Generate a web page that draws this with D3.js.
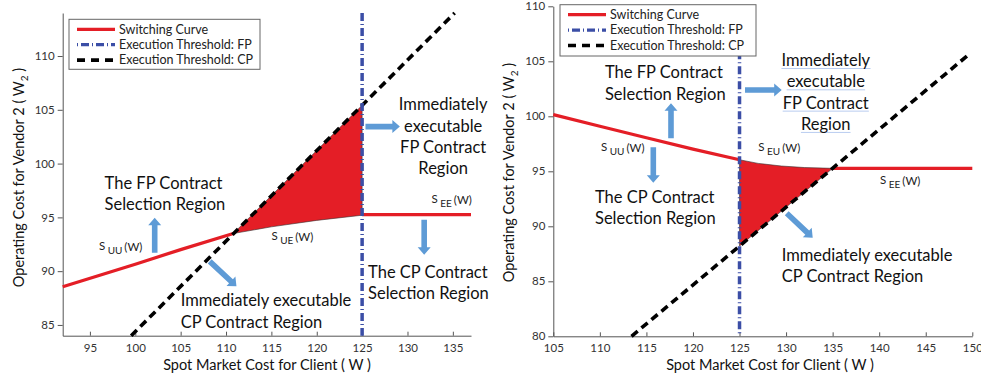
<!DOCTYPE html>
<html><head><meta charset="utf-8">
<script src="https://cdn.jsdelivr.net/npm/d3@7"></script>
<style>
html,body{margin:0;padding:0;background:#fff;}
svg{display:block;font-family:Lato,"Open Sans",sans-serif;}
</style></head><body>
<svg id="chart" width="981" height="379"></svg>
<script>
// ---------- Left panel data ----------
const leftXDomain = [92, 137];
const leftYDomain = [84, 114];
const leftXTicks = [95, 100, 105, 110, 115, 120, 125, 130, 135];
const leftYTicks = [85, 90, 95, 100, 105, 110];
const leftSUU = [[92, 88.55], [96, 89.6], [100, 90.65], [105, 92.0], [110.8, 93.5]];
const leftSUE = [[110.8, 93.5], [115, 94.12], [120, 94.72], [125, 95.2]];
const leftSEE = [[125, 95.25], [137, 95.25]];
const leftCP = [[99.55, 84], [135.2, 114]];
const leftFP = 125;

// ---------- Right panel data ----------
const rightXDomain = [105, 150];
const rightYDomain = [80, 110];
const rightXTicks = [105, 110, 115, 120, 125, 130, 135, 140, 145, 150];
const rightYTicks = [80, 85, 90, 95, 100, 105, 110];
const rightSUU = [[105, 100.15], [110, 99.1], [115, 98.05], [120, 97.02], [125, 96.05]];
const rightSEU = [[125, 96.05], [127, 95.72], [129.5, 95.48], [132, 95.34], [135, 95.27]];
const rightSEE = [[135, 95.27], [150, 95.27]];
const rightCP = [[113.4, 80], [149.6, 105.6]];
const rightFP = 125;

const legendLabels = ["Switching Curve", "Execution Threshold: FP", "Execution Threshold: CP"];
const xAxisTitle = "Spot Market Cost for Client ( W )";

const RED = "#e41e26", BLUE = "#3b4ea6", ARROW = "#5e9bd6", AXIS = "#555";

const svg = d3.select("#chart");

// value of a straight threshold line at a given x
function lineAt(seg, x) {
  const [[x0, y0], [x1, y1]] = seg;
  return y0 + (y1 - y0) * (x - x0) / (x1 - x0);
}

function arrow(g, p1, p2) {
  const dx = p2[0] - p1[0], dy = p2[1] - p1[1], L = Math.hypot(dx, dy);
  const ux = dx / L, uy = dy / L, nx = -uy, ny = ux;
  const sw = 2.8, hw = 6.5, hl = 7.5;
  const b = [p2[0] - ux * hl, p2[1] - uy * hl];
  const pts = [
    [p1[0] + nx * sw, p1[1] + ny * sw], [b[0] + nx * sw, b[1] + ny * sw],
    [b[0] + nx * hw, b[1] + ny * hw], p2,
    [b[0] - nx * hw, b[1] - ny * hw], [b[0] - nx * sw, b[1] - ny * sw],
    [p1[0] - nx * sw, p1[1] - ny * sw]];
  g.append("polygon").attr("points", pts.map(p => p.join(",")).join(" ")).attr("fill", ARROW);
}

function sLabel(g, x, y, sub) {
  const t = g.append("text").attr("x", x).attr("y", y).attr("font-size", 11.5).attr("fill", "#222");
  t.append("tspan").text("S");
  t.append("tspan").attr("dy", 4).attr("dx", 2.5).attr("font-size", 10).text(sub);
  t.append("tspan").attr("dy", -3).attr("dx", 2).text("(W)");
}

function block(g, x, y, lines, anchor, underline) {
  lines.forEach((s, i) => {
    const t = g.append("text").attr("x", x).attr("y", y + i * 21.3)
      .attr("font-size", 16.5).attr("fill", "#111").attr("text-anchor", anchor).text(s);
    if (underline) {
      const bb = t.node().getBBox();
      g.insert("line", "text").attr("x1", bb.x).attr("x2", bb.x + bb.width)
        .attr("y1", y + i * 21.3 + 2.5).attr("y2", y + i * 21.3 + 2.5)
        .attr("stroke", "#b9cdf0").attr("stroke-width", 1);
    }
  });
}

function panel(cfg) {
  const x = d3.scaleLinear().domain(cfg.xDomain).range(cfg.xRange);
  const y = d3.scaleLinear().domain(cfg.yDomain).range(cfg.yRange);
  const g = svg.append("g");
  const line = d3.line().x(d => x(d[0])).y(d => y(d[1]));

  // axes
  const xa = g.append("g").attr("transform", `translate(0,${cfg.yRange[0]})`)
    .call(d3.axisBottom(x).tickValues(cfg.xTicks).tickSizeInner(-4).tickSizeOuter(0).tickPadding(8));
  const ya = g.append("g").attr("transform", `translate(${cfg.xRange[0]},0)`)
    .call(d3.axisLeft(y).tickValues(cfg.yTicks).tickSizeInner(5).tickSizeOuter(0).tickPadding(3));
  [xa, ya].forEach(a => {
    a.select(".domain").attr("stroke", AXIS);
    a.selectAll(".tick line").attr("stroke", AXIS);
    a.selectAll(".tick text").attr("font-size", 11.5).attr("fill", "#333").attr("font-family", "Lato");
  });

  // region between the switching curve segment and the CP threshold
  const fpY = lineAt(cfg.cp, cfg.fp);
  const poly = cfg.mid.concat([[cfg.fp, fpY]]);
  g.append("path").attr("d", line(poly) + "Z").attr("fill", RED)
    .attr("stroke", "#333").attr("stroke-width", 0.6);

  // switching curve
  g.append("path").attr("d", line(cfg.left)).attr("fill", "none").attr("stroke", RED).attr("stroke-width", 3.2);
  g.append("path").attr("d", line(cfg.right)).attr("fill", "none").attr("stroke", RED).attr("stroke-width", 3.2);

  // CP threshold
  g.append("path").attr("d", line(cfg.cp)).attr("fill", "none").attr("stroke", "#000")
    .attr("stroke-width", 3.6).attr("stroke-dasharray", "8,5");

  // FP threshold
  g.append("line").attr("x1", x(cfg.fp)).attr("x2", x(cfg.fp))
    .attr("y1", y(cfg.yDomain[1])).attr("y2", y(cfg.yDomain[0]))
    .attr("stroke", BLUE).attr("stroke-width", 3.5).attr("stroke-dasharray", "8,3,1,3");

  // legend
  const L = cfg.legend;
  const lg = g.append("g").attr("transform", `translate(${L[0]},${L[1]})`);
  lg.append("rect").attr("width", L[2]).attr("height", L[3]).attr("fill", "#fff")
    .attr("stroke", "#666").attr("stroke-width", 1);
  const styles = [
    { c: RED, w: 3.2, d: null },
    { c: BLUE, w: 3.2, d: "1,3,8,3" },
    { c: "#000", w: 3.6, d: "8,6" }];
  legendLabels.forEach((s, i) => {
    const ry = 10 + i * 15.4;
    lg.append("line").attr("x1", 8).attr("x2", 46).attr("y1", ry).attr("y2", ry)
      .attr("stroke", styles[i].c).attr("stroke-width", styles[i].w)
      .attr("stroke-dasharray", styles[i].d);
    lg.append("text").attr("x", 50).attr("y", ry + 4.3).attr("font-size", 12.5)
      .attr("fill", "#222").text(s);
  });

  // axis titles
  g.append("text").attr("x", cfg.xTitle[0]).attr("y", cfg.xTitle[1]).attr("text-anchor", "middle")
    .attr("font-size", 14.5).attr("fill", "#111").text(xAxisTitle);
  const yt = g.append("text").attr("transform", `translate(${cfg.yTitle[0]},${cfg.yTitle[1]}) rotate(-90)`)
    .attr("text-anchor", "middle").attr("font-size", 14.5).attr("fill", "#111");
  yt.append("tspan").text("Operating Cost for Vendor 2 ( W");
  yt.append("tspan").attr("dy", 4).attr("font-size", 10).text("2");
  yt.append("tspan").attr("dy", -4).text(" )");

  // annotations
  const ann = g.append("g");
  cfg.blocks.forEach(b => block(ann, x(b.at[0]), y(b.at[1]), b.lines, b.anchor, b.underline));
  cfg.sLabels.forEach(s => sLabel(ann, x(s.at[0]), y(s.at[1]), s.sub));
  cfg.arrows.forEach(a => arrow(ann, [x(a[0][0]), y(a[0][1])], [x(a[1][0]), y(a[1][1])]));
}

panel({
  xDomain: leftXDomain, yDomain: leftYDomain, xTicks: leftXTicks, yTicks: leftYTicks,
  xRange: [62.7, 471], yRange: [335.7, 13],
  left: leftSUU, mid: leftSUE, right: leftSEE, cp: leftCP, fp: leftFP,
  legend: [69, 19.3, 191, 50],
  xTitle: [267, 370], yTitle: [23.5, 177.5],
  blocks: [
    { at: [96.62, 97.67], lines: ["The FP Contract", "Selection Region"], anchor: "start" },
    { at: [105.0, 86.73], lines: ["Immediately executable", "CP Contract Region"], anchor: "start" },
    { at: [133.93, 104.94], lines: ["Immediately", "executable", "FP Contract", "Region"], anchor: "middle" },
    { at: [125.66, 89.37], lines: ["The CP Contract", "Selection Region"], anchor: "start" }],
  sLabels: [
    { at: [95.99, 91.93], sub: "UU" },
    { at: [115.0, 92.93], sub: "UE" },
    { at: [132.65, 96.34], sub: "EE" }],
  arrows: [
    [[102.14, 91.72], [102.14, 94.97]],
    [[108.2, 90.91], [111.15, 88.59]],
    [[125.37, 103.44], [129.16, 103.44]],
    [[131.84, 94.79], [131.84, 91.53]]]
});

panel({
  xDomain: rightXDomain, yDomain: rightYDomain, xTicks: rightXTicks, yTicks: rightYTicks,
  xRange: [553.3, 972.3], yRange: [336.3, 6.3],
  left: rightSUU, mid: rightSEU, right: rightSEE, cp: rightCP, fp: rightFP,
  legend: [560, 4.7, 196, 51.3],
  xTitle: [770, 370], yTitle: [513.5, 172.5],
  blocks: [
    { at: [110.55, 103.45], lines: ["The FP Contract", "Selection Region"], anchor: "start" },
    { at: [109.48, 92.15], lines: ["The CP Contract", "Selection Region"], anchor: "start" },
    { at: [134.26, 104.57], lines: ["Immediately", "executable", "FP Contract", "Region"], anchor: "middle", underline: true },
    { at: [129.53, 86.87], lines: ["Immediately executable", "CP Contract Region"], anchor: "start" }],
  sLabels: [
    { at: [110.12, 96.87], sub: "UU" },
    { at: [127.02, 96.87], sub: "EU" },
    { at: [140.09, 93.82], sub: "EE" }],
  arrows: [
    [[117.64, 98.0], [117.64, 101.18]],
    [[115.74, 97.18], [115.74, 93.96]],
    [[125.59, 102.39], [129.53, 102.39]],
    [[130.07, 91.18], [132.86, 88.96]]]
});
</script>
</body></html>
